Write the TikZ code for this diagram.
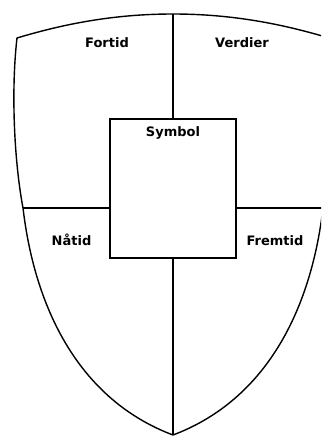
\documentclass[tikz,border=0pt]{standalone}
\usepackage{fontspec}
\setmainfont{DejaVu Sans}
\begin{document}
\begin{tikzpicture}[x=1pt,y=-1pt,
  outline/.style={line width=1.4pt, line join=round},
  divider/.style={line width=1.9pt},
  crossbar/.style={line width=1.5pt},
  label/.style={font=\bfseries\fontsize{13}{15}\selectfont, anchor=base, inner sep=0pt}]
  \useasboundingbox (0,0) rectangle (321,436);
  \clip (0,0) rectangle (321,436);

  % key points of the shield
  \coordinate (tl) at (17,38);
  \coordinate (tr) at (329,38);
  \coordinate (top) at (173,14);
  \coordinate (ml) at (23,208);
  \coordinate (mr) at (323,208);
  \coordinate (tip) at (173,435);

  % shield outline
  \draw[outline] (tl) .. controls (70,22) and (120,14) .. (top)
    .. controls (226,14) and (276,22) .. (tr)
    .. controls (335,90) and (332,160) .. (mr)
    .. controls (311,310) and (266,400) .. (tip)
    .. controls (80,400) and (35,310) .. (ml)
    .. controls (14,160) and (11,90) .. (tl) -- cycle;

  % central box
  \node[draw, line width=1.9pt, minimum width=126pt, minimum height=139pt, inner sep=0pt]
    (sym) at (173,188.5) {};

  % dividing lines
  \draw[divider] (top) -- (sym.north);
  \draw[divider] (sym.south) -- (tip);
  \draw[crossbar] (ml) -- (ml -| sym.west);
  \draw[crossbar] (mr -| sym.east) -- (mr);

  % field labels
  \node[label] (fortid) at (107,47.5) {Fortid};
  \node[label] (verdier) at (242,47.5) {Verdier};
  \node[label] (symbol) at (173,136.5) {Symbol};
  \node[label] (natid) at (71.5,245) {Nåtid};
  \node[label] (fremtid) at (275,245) {Fremtid};
\end{tikzpicture}
\end{document}
